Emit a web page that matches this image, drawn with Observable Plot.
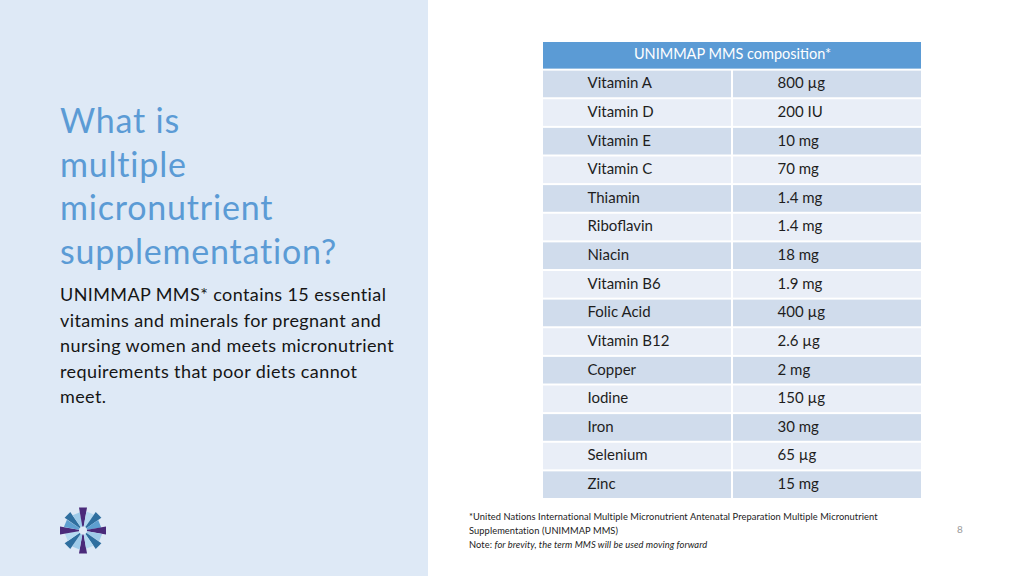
<!DOCTYPE html>
<html>
<head>
<meta charset="utf-8">
<script src="https://cdn.jsdelivr.net/npm/d3@7"></script>
<script src="https://cdn.jsdelivr.net/npm/@observablehq/plot@0.6"></script>
<style>
  html, body { margin: 0; padding: 0; background: #ffffff; }
  #slide { position: relative; width: 1024px; height: 576px; overflow: hidden; background: #ffffff; }
  #left { position: absolute; left: 0; top: 0; width: 428px; height: 576px; background: #dee9f6; }
  #title { position: absolute; left: 60px; top: 98px; font-family: Lato, "Noto Sans", sans-serif; font-size: 34px; line-height: 43.5px; color: #5b9bd5; letter-spacing: 0.8px; }
  #body { position: absolute; left: 60px; top: 282px; white-space: nowrap; font-family: Lato, "Noto Sans", sans-serif; font-size: 18px; line-height: 25.6px; color: #151515; letter-spacing: 0.4px; }
  #table { position: absolute; left: 542px; top: 40px; line-height: 0; }
  #table svg, #logo svg { display: block; }
  #logo { position: absolute; left: 51px; top: 500px; }
  #foot { position: absolute; left: 469px; top: 510px; font-family: Lato, "Noto Sans", sans-serif; font-size: 9.3px; line-height: 14.2px; color: #222; letter-spacing: 0.08px; }
  #page { position: absolute; left: 957px; top: 523px; font-family: Lato, sans-serif; font-size: 10px; color: #9a9a9a; }
</style>
</head>
<body>
<div id="slide">
  <div id="left"></div>
  <div id="title">What is<br>multiple<br>micronutrient<br>supplementation?</div>
  <div id="body">UNIMMAP MMS* contains 15 essential<br>vitamins and minerals for pregnant and<br>nursing women and meets micronutrient<br>requirements that poor diets cannot<br>meet.</div>
  <div id="table"></div>
  <div id="logo"></div>
  <div id="foot">*United Nations International Multiple Micronutrient Antenatal Preparation Multiple Micronutrient<br>Supplementation (UNIMMAP MMS)<br>Note: <i>for brevity, the term MMS will be used moving forward</i></div>
  <div id="page">8</div>
</div>
<script>
const headerLabel = "UNIMMAP MMS composition*";
const nutrients = ["Vitamin A","Vitamin D","Vitamin E","Vitamin C","Thiamin","Riboflavin","Niacin","Vitamin B6","Folic Acid","Vitamin B12","Copper","Iodine","Iron","Selenium","Zinc"];
const amounts = ["800 µg","200 IU","10 mg","70 mg","1.4 mg","1.4 mg","18 mg","1.9 mg","400 µg","2.6 µg","2 mg","150 µg","30 mg","65 µg","15 mg"];

// logo spikes
const logoAngles = [0, 22, 45, 68, 90, 112, 135, 158, 180, 202, 225, 248, 270, 292, 315, 338];
const logoLengths = [23, 19, 22, 18, 23, 19, 22, 18, 23, 19, 22, 18, 23, 19, 22, 18];
const logoColors = ["#4a2a7a","#9fcbe9","#2f6f9f","#b5d9f0","#4a2a7a","#5e9fd0","#2f6f9f","#9fcbe9","#4a2a7a","#b5d9f0","#2f6f9f","#5e9fd0","#4a2a7a","#9fcbe9","#2f6f9f","#b5d9f0"];

const rows = nutrients.map((n, i) => ({name: n, amount: amounts[i], i}));
const cells = rows.flatMap(r => [
  {row: r.name, c: 0, i: r.i, label: r.name},
  {row: r.name, c: 1, i: r.i, label: r.amount}
]);
const yDomain = ["__header", ...nutrients];

const table = Plot.plot({
  width: 380,
  height: 460,
  margin: 0,
  marginTop: 1,
  marginBottom: 1,
  x: {domain: [0, 2], axis: null},
  y: {domain: yDomain, axis: null, padding: 0, round: false},
  style: {fontFamily: "Lato, 'Open Sans', sans-serif", background: "transparent"},
  marks: [
    Plot.barX([{y: "__header"}], {x1: 0, x2: 2, y: "y", fill: "#5b9bd5", inset: 1}),
    Plot.barX(cells, {x1: "c", x2: d => d.c + 1, y: "row", fill: d => d.i % 2 === 0 ? "#d0dcec" : "#e9eef7", inset: 1}),
    Plot.text([{y: "__header", label: headerLabel}], {x: 1, y: "y", text: "label", fill: "#ffffff", fontSize: 14.5, textAnchor: "middle", dy: -1}),
    Plot.text(cells, {x: "c", y: "row", text: "label", dx: 45, dy: -1, textAnchor: "start", fill: "#1e1e1e", fontSize: 15})
  ]
});
document.getElementById("table").appendChild(table);

const logoData = logoAngles.map((a, i) => ({a, l: logoLengths[i], c: logoColors[i]}));
const logo = Plot.plot({
  width: 60,
  height: 60,
  margin: 0,
  x: {domain: [-1, 1], axis: null},
  y: {domain: [-1, 1], axis: null},
  length: {type: "identity"},
  style: {background: "transparent"},
  marks: [
    Plot.vector(logoData, {x: () => 0.05, y: () => 0, rotate: "a", length: "l", shape: "spike", r: 4, anchor: "end", fill: "c", stroke: "none"}),
    Plot.dot([0], {x: () => 0.05, y: () => 0, r: 4, fill: "#dee9f6", stroke: "none"})
  ]
});
document.getElementById("logo").appendChild(logo);
</script>
</body>
</html>
